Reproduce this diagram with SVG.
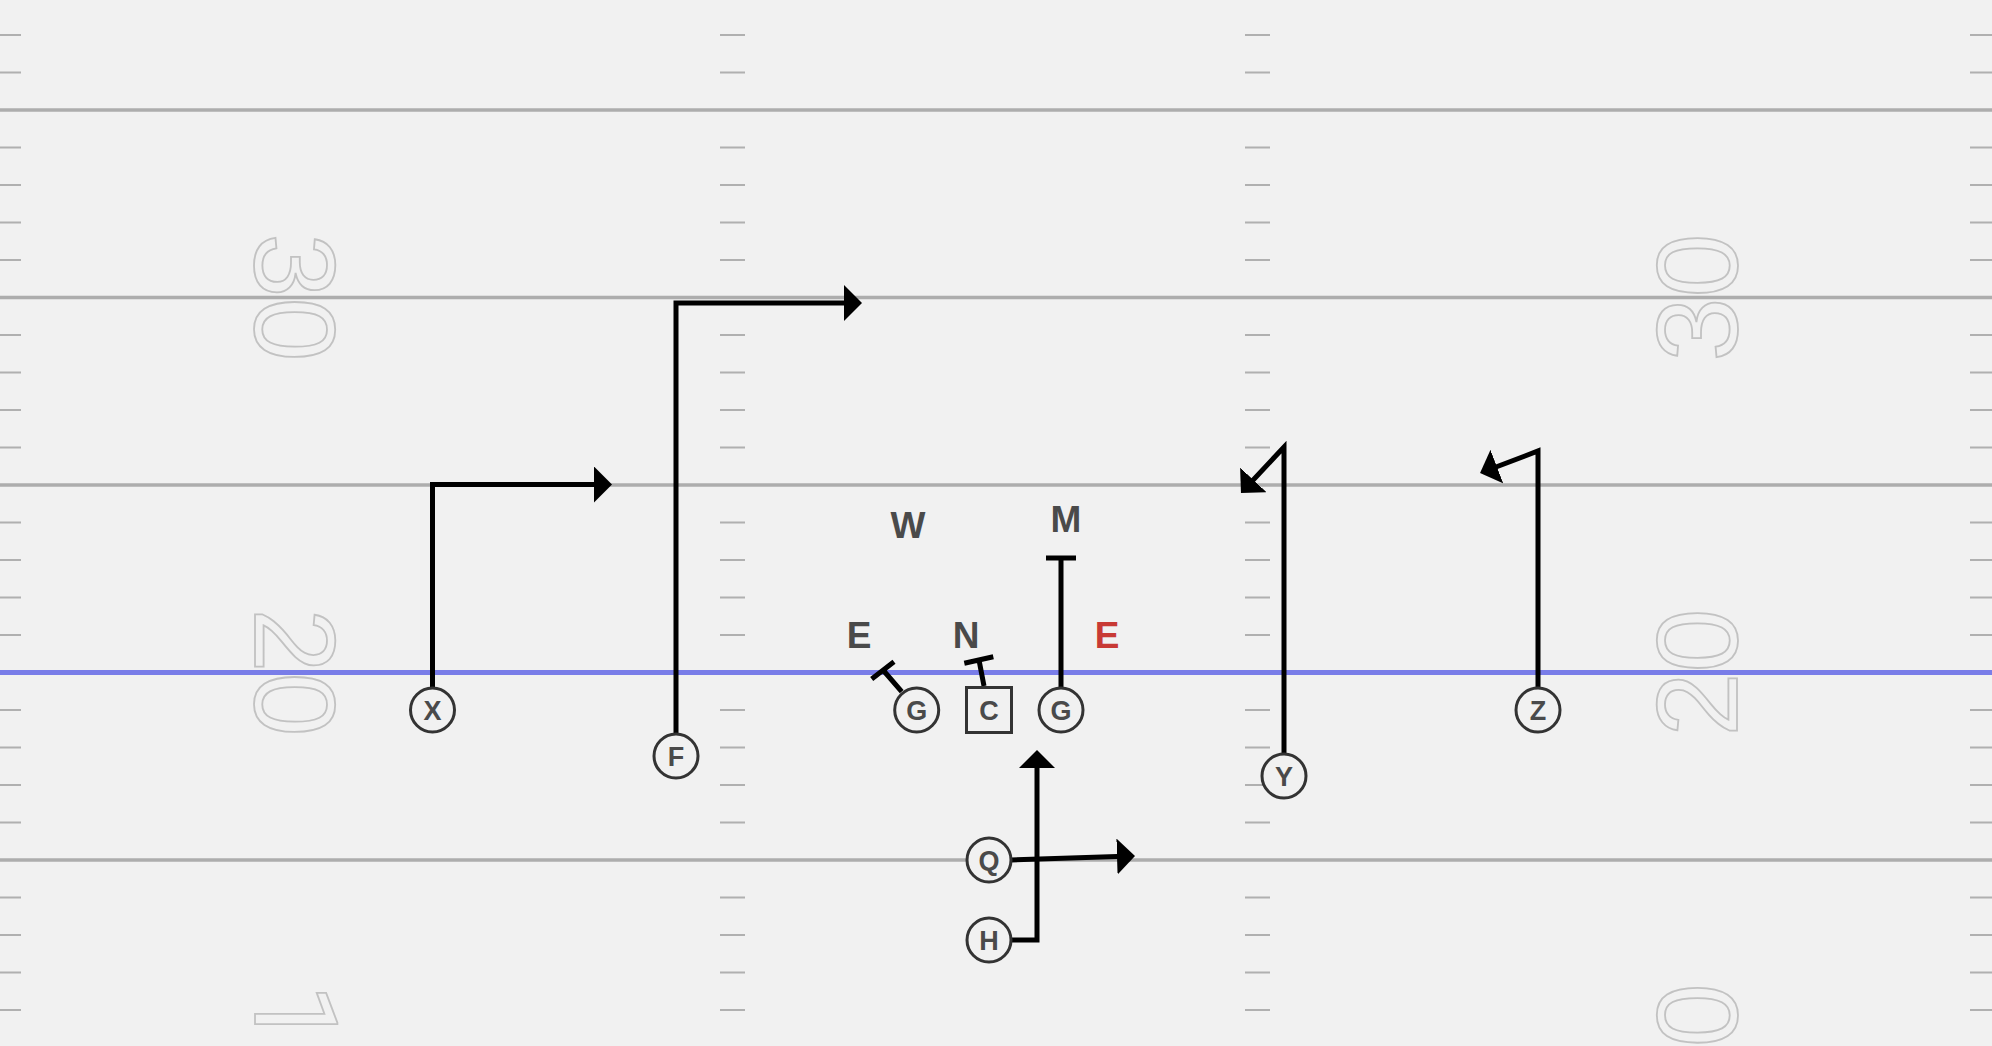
<svg xmlns="http://www.w3.org/2000/svg" width="1992" height="1046" viewBox="0 0 1992 1046">
<style>
.yard{stroke:#adadad;stroke-width:3.5;fill:none}
.hash{stroke:#b0b0b0;stroke-width:2;fill:none}
.num{font-family:"Liberation Sans",Arial,sans-serif;font-size:115px;fill:none;stroke:#c2c2c2;stroke-width:1.8}
.one{font-family:Roboto,"Liberation Sans",sans-serif}
.route{stroke:#000;stroke-width:5;fill:none;stroke-linejoin:miter}
.block{stroke:#000;stroke-width:5;fill:none}
.player{fill:#f1f1f1;stroke:#333;stroke-width:3}
.plab{font-family:"Liberation Sans",Arial,sans-serif;font-weight:bold;font-size:27px;fill:#4a4a4a;text-anchor:middle}
.dlab{font-family:"Liberation Sans",Arial,sans-serif;font-weight:bold;font-size:37px;fill:#4a4a4a;text-anchor:middle}
</style>
<defs>
<marker id="ah" markerUnits="userSpaceOnUse" markerWidth="18" markerHeight="36" viewBox="0 0 18 36" refX="8" refY="18" orient="auto"><path d="M0,0 L18,18 L0,36 z" fill="#000"/></marker>
</defs>
<rect width="1992" height="1046" fill="#f1f1f1"/>
<g id="field">
<g id="hashes">
<path class="hash" d="M0,35H21M0,72.5H21M0,147.5H21M0,185H21M0,222.5H21M0,260H21M0,335H21M0,372.5H21M0,410H21M0,447.5H21M0,522.5H21M0,560H21M0,597.5H21M0,635H21M0,710H21M0,747.5H21M0,785H21M0,822.5H21M0,897.5H21M0,935H21M0,972.5H21M0,1010H21"/>
<path class="hash" d="M720,35H745M720,72.5H745M720,147.5H745M720,185H745M720,222.5H745M720,260H745M720,335H745M720,372.5H745M720,410H745M720,447.5H745M720,522.5H745M720,560H745M720,597.5H745M720,635H745M720,710H745M720,747.5H745M720,785H745M720,822.5H745M720,897.5H745M720,935H745M720,972.5H745M720,1010H745"/>
<path class="hash" d="M1245,35H1270M1245,72.5H1270M1245,147.5H1270M1245,185H1270M1245,222.5H1270M1245,260H1270M1245,335H1270M1245,372.5H1270M1245,410H1270M1245,447.5H1270M1245,522.5H1270M1245,560H1270M1245,597.5H1270M1245,635H1270M1245,710H1270M1245,747.5H1270M1245,785H1270M1245,822.5H1270M1245,897.5H1270M1245,935H1270M1245,972.5H1270M1245,1010H1270"/>
<path class="hash" d="M1970,35H1992M1970,72.5H1992M1970,147.5H1992M1970,185H1992M1970,222.5H1992M1970,260H1992M1970,335H1992M1970,372.5H1992M1970,410H1992M1970,447.5H1992M1970,522.5H1992M1970,560H1992M1970,597.5H1992M1970,635H1992M1970,710H1992M1970,747.5H1992M1970,785H1992M1970,822.5H1992M1970,897.5H1992M1970,935H1992M1970,972.5H1992M1970,1010H1992"/>
</g>
<g id="yardlines">
<path class="yard" d="M0,110H1992M0,297.5H1992M0,485H1992M0,860H1992"/>
<line id="los" x1="0" y1="672.5" x2="1992" y2="672.5" stroke="#797de8" stroke-width="5"/>
</g>
<g id="numbers">
<text class="num" text-anchor="middle" transform="translate(255,297.5) rotate(90)">30</text>
<text class="num" text-anchor="middle" transform="translate(255,672.5) rotate(90)">20</text>
<text class="num" text-anchor="middle" transform="translate(255,1047.5) rotate(90)"><tspan class="one">1</tspan>0</text>
<text class="num" text-anchor="middle" transform="translate(1737,297.5) rotate(-90)">30</text>
<text class="num" text-anchor="middle" transform="translate(1737,672.5) rotate(-90)">20</text>
<text class="num" text-anchor="middle" transform="translate(1737,1047.5) rotate(-90)"><tspan class="one">1</tspan>0</text>
</g>
</g>
<g id="connectors">
<path id="route-x" class="route" marker-end="url(#ah)" d="M432.5,688 V484.5 H602"/>
<path id="route-f" class="route" marker-end="url(#ah)" d="M676,734 V303 H852"/>
<path id="route-q" class="route" marker-end="url(#ah)" d="M1011,860 L1125,856.3"/>
<path id="route-h" class="route" marker-end="url(#ah)" d="M1011,940 H1037 V760"/>
<path id="route-y" class="route" marker-end="url(#ah)" d="M1284,754 V447 L1247.8,485.7"/>
<path id="route-z" class="route" marker-end="url(#ah)" d="M1538,688 V451 L1489.4,469.5"/>
<path id="block-e" class="block" d="M901.7,691.7 L883,670 M871.7,679 L894,661.7"/>
<path id="block-n" class="block" d="M984,686 L979,660 M964.3,663.3 L993.3,656.7"/>
<path id="block-m" class="block" d="M1061,687 V558 M1046,558 H1076"/>
</g>
<g id="node-x"><circle class="player" cx="432.5" cy="710" r="22"/><text class="plab" x="432.5" y="719.7">X</text></g>
<g id="node-f"><circle class="player" cx="676" cy="756" r="22"/><text class="plab" x="676" y="765.7">F</text></g>
<g id="node-lg"><circle class="player" cx="916.7" cy="710" r="22"/><text class="plab" x="916.7" y="719.7">G</text></g>
<g id="node-c"><rect class="player" x="966.5" y="687.5" width="45" height="45"/><text class="plab" x="989" y="719.7">C</text></g>
<g id="node-rg"><circle class="player" cx="1061" cy="710" r="22"/><text class="plab" x="1061" y="719.7">G</text></g>
<g id="node-q"><circle class="player" cx="989" cy="860" r="22"/><text class="plab" x="989" y="869.7">Q</text></g>
<g id="node-h"><circle class="player" cx="989" cy="940" r="22"/><text class="plab" x="989" y="949.7">H</text></g>
<g id="node-y"><circle class="player" cx="1284" cy="776" r="22"/><text class="plab" x="1284" y="785.7">Y</text></g>
<g id="node-z"><circle class="player" cx="1538" cy="710" r="22"/><text class="plab" x="1538" y="719.7">Z</text></g>
<g id="node-w"><text class="dlab" x="908" y="538">W</text></g>
<g id="node-m"><text class="dlab" x="1066" y="532">M</text></g>
<g id="node-e-left"><text class="dlab" x="859" y="648">E</text></g>
<g id="node-n"><text class="dlab" x="966" y="648">N</text></g>
<g id="node-e-right"><text class="dlab" x="1107" y="648" style="fill:#c83a35">E</text></g>
</svg>
